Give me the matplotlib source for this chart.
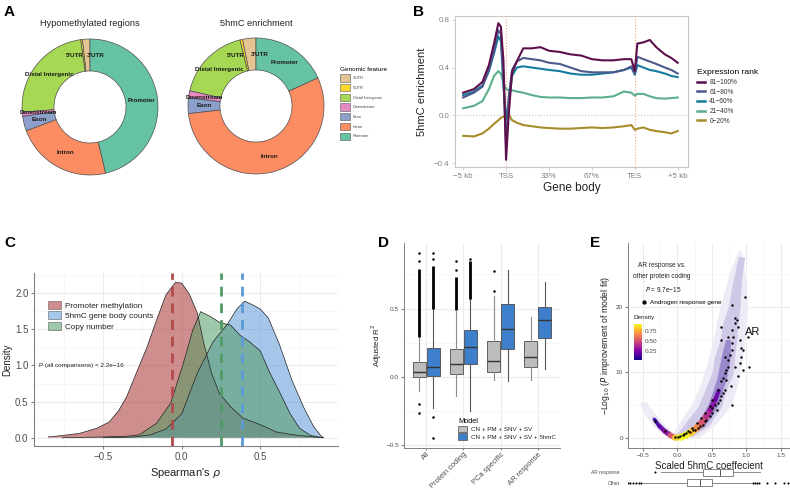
import numpy as np
import matplotlib
matplotlib.use('Agg')
import matplotlib.pyplot as plt
from matplotlib.patches import Patch
from matplotlib.lines import Line2D
from matplotlib.collections import LineCollection
from matplotlib.cm import ScalarMappable
from matplotlib.colors import Normalize

# ---------------- data ----------------
# A: genomic feature composition (%)
features = ["3'UTR", "5'UTR", "Distal Intergenic", "Downstream", "Exon", "Intron", "Promoter"]
feature_colors = ['#E5C494', '#FFD92F', '#A6D854', '#E78AC3', '#8DA0CB', '#FC8D62', '#66C2A5']
label_ha = ['left', 'right', 'center', 'center', 'center', 'center', 'center']
hypo_pct = [1.8, 0.4, 24.0, 1.0, 3.5, 23.0, 46.3]
hmc_pct = [3.2, 0.6, 17.6, 1.7, 3.7, 55.0, 18.2]

# B: metagene profile (0 = -5kb, 1 = TSS, 4 = TES, 5 = +5kb)
gb_pos = [0, 0.25, 0.45, 0.6, 0.72, 0.82, 0.88, 0.94, 1.0, 1.06, 1.14, 1.25, 1.4, 1.6, 1.8, 2.0,
          2.25, 2.5, 2.75, 3.0, 3.25, 3.5, 3.75, 3.92, 4.0, 4.06, 4.2, 4.35, 4.5, 4.7, 4.85, 5.0]
gb_ticks = ['\u22125 kb', 'TSS', '33%', '67%', 'TES', '+5 kb']
enr_81_100 = [0.19, 0.22, 0.28, 0.42, 0.60, 0.77, 0.74, 0.45, -0.37, 0.0, 0.36, 0.45, 0.56, 0.56, 0.57, 0.54,
              0.53, 0.51, 0.50, 0.47, 0.46, 0.46, 0.47, 0.47, 0.37, 0.60, 0.61, 0.63, 0.57, 0.51, 0.48, 0.44]
enr_61_80 = [0.15, 0.19, 0.24, 0.38, 0.55, 0.71, 0.68, 0.30, -0.26, 0.15, 0.38, 0.45, 0.48, 0.47, 0.46, 0.44,
             0.43, 0.40, 0.37, 0.36, 0.36, 0.36, 0.38, 0.41, 0.35, 0.49, 0.47, 0.45, 0.43, 0.40, 0.38, 0.35]
enr_41_60 = [0.17, 0.20, 0.25, 0.37, 0.52, 0.66, 0.62, 0.25, -0.03, 0.10, 0.33, 0.40, 0.41, 0.40, 0.39, 0.38,
             0.37, 0.35, 0.34, 0.34, 0.35, 0.36, 0.38, 0.40, 0.34, 0.42, 0.40, 0.38, 0.37, 0.35, 0.33, 0.32]
enr_21_40 = [0.06, 0.08, 0.12, 0.22, 0.33, 0.37, 0.35, 0.27, 0.22, 0.21, 0.21, 0.20, 0.19, 0.17, 0.155, 0.15,
             0.15, 0.145, 0.145, 0.15, 0.15, 0.16, 0.20, 0.19, 0.165, 0.18, 0.18, 0.16, 0.145, 0.14, 0.145, 0.15]
enr_0_20 = [-0.17, -0.175, -0.15, -0.11, -0.07, -0.04, -0.02, -0.01, 0.0, 0.01, -0.04, -0.06, -0.08, -0.09, -0.10, -0.105,
            -0.11, -0.11, -0.105, -0.10, -0.105, -0.10, -0.09, -0.08, -0.12, -0.11, -0.10, -0.12, -0.13, -0.14, -0.15, -0.13]
rank_labels = ['81\u2212100%', '61\u221280%', '41\u221260%', '21\u221240%', '0\u221220%']
rank_colors = ['#5C0F4A', '#4D5A8E', '#157B9E', '#5BAF8A', '#A88B2A']

# C: density of Spearman's rho
pm_x = [-0.85, -0.76, -0.65, -0.54, -0.46, -0.40, -0.35, -0.29, -0.22, -0.16, -0.10, -0.04, 0.0, 0.05,
        0.10, 0.14, 0.19, 0.24, 0.31, 0.39, 0.50, 0.60, 0.71, 0.84, 0.90]
pm_y = [0.01, 0.03, 0.06, 0.13, 0.22, 0.38, 0.57, 0.89, 1.26, 1.63, 1.98, 2.15, 2.14, 1.98,
        1.72, 1.31, 0.89, 0.61, 0.43, 0.27, 0.18, 0.08, 0.04, 0.01, 0.0]
hmc_x = [-0.5, -0.3, -0.2, -0.1, 0.0, 0.1, 0.2, 0.29, 0.35, 0.40, 0.45, 0.50, 0.55, 0.62, 0.70, 0.78, 0.84, 0.88, 0.90]
hmc_y = [0.0, 0.01, 0.04, 0.12, 0.33, 0.90, 1.33, 1.57, 1.78, 1.89, 1.84, 1.78, 1.66, 1.30, 0.80, 0.40, 0.15, 0.04, 0.0]
cn_x = [-0.76, -0.5, -0.35, -0.27, -0.16, -0.07, 0.01, 0.07, 0.12, 0.18, 0.245, 0.31, 0.37, 0.43, 0.50,
        0.56, 0.625, 0.69, 0.75, 0.82, 0.90]
cn_y = [0.0, 0.01, 0.02, 0.04, 0.20, 0.48, 1.03, 1.49, 1.745, 1.68, 1.59, 1.56, 1.42, 1.33, 1.20,
        0.90, 0.62, 0.33, 0.13, 0.03, 0.0]
rho_medians = [-0.062, 0.385, 0.25]
rho_labels = ['Promoter methylation', '5hmC gene body counts', 'Copy number']
rho_fill = ['#A83232', '#5D97D9', '#529B64']
rho_line = ['#B24A4A', '#5B9AD8', '#4F9A66']

# D: adjusted R^2 boxplots
d_groups = ['All', 'Protein coding', 'PCa specific', 'AR response']
gray_med = [0.034, 0.098, 0.12, 0.149]
gray_q1 = [0.0, 0.022, 0.034, 0.073]
gray_q3 = [0.11, 0.205, 0.26, 0.264]
gray_lo = [-0.105, -0.142, -0.02, -0.02]
gray_hi = [0.286, 0.48, 0.59, 0.44]
gray_fliers = [[-0.196, -0.264, 0.85, 0.905], [0.78, 0.845], [0.63, 0.774], []]
gray_band = [(0.29, 0.79), (0.49, 0.73), None, None]
blue_med = [0.073, 0.22, 0.352, 0.42]
blue_q1 = [0.007, 0.098, 0.205, 0.283]
blue_q3 = [0.21, 0.347, 0.537, 0.51]
blue_lo = [-0.227, -0.252, -0.032, 0.059]
blue_hi = [0.5, 0.567, 0.78, 0.694]
blue_fliers = [[-0.296, -0.447, 0.86, 0.905], [0.86], [], []]
blue_band = [(0.5, 0.81), (0.57, 0.85), None, None]
model_labels = ['CN + PM + SNV + SV', 'CN + PM + SNV + SV + 5hmC']

# E: volcano-like cloud
halo_y = [0, 2, 5, 8, 11, 14, 17, 20, 23, 26, 28.5]
halo_l = [-0.1, 0.0, 0.2, 0.33, 0.42, 0.5, 0.56, 0.62, 0.7, 0.78, 0.88]
halo_r = [0.3, 0.55, 0.78, 0.87, 0.93, 0.97, 1.0, 1.02, 1.0, 0.97, 0.93]
cloud_y = [0.25, 1.8, 4.8, 7.3, 9.9, 12.4, 14.9, 17.5, 20, 22.5, 25, 27.6]
cloud_l = [-0.04, 0.08, 0.30, 0.40, 0.50, 0.54, 0.62, 0.66, 0.74, 0.78, 0.83, 0.88]
cloud_r = [0.21, 0.45, 0.64, 0.71, 0.81, 0.83, 0.86, 0.88, 0.91, 0.92, 0.94, 0.98]
mid_y = [1.5, 3, 5, 7, 9, 11, 13, 15]
mid_l = [0.22, 0.33, 0.44, 0.51, 0.57, 0.61, 0.65, 0.70]
mid_r = [0.36, 0.48, 0.59, 0.65, 0.71, 0.75, 0.77, 0.77]
arm_halo_y = [0, 1, 2, 3, 4, 5.5]
arm_halo_l = [-0.1, -0.26, -0.36, -0.43, -0.5, -0.55]
arm_halo_r = [0.05, -0.08, -0.18, -0.26, -0.35, -0.45]
arm_y = [0, 0.8, 1.6, 2.4, 3.2]
arm_l = [-0.06, -0.2, -0.28, -0.34, -0.38]
arm_r = [0.02, -0.08, -0.18, -0.26, -0.32]
core_x = [-0.33, -0.26, -0.18, -0.1, -0.03, 0.05, 0.12, 0.2, 0.28, 0.35, 0.42, 0.48, 0.55, 0.6]
core_y = [2.8, 1.8, 1.0, 0.4, 0.05, 0.1, 0.4, 0.9, 1.5, 2.3, 3.3, 4.3, 5.8, 7.2]
core_d = [0.1, 0.18, 0.3, 0.55, 0.85, 0.92, 0.9, 0.8, 0.65, 0.5, 0.38, 0.28, 0.2, 0.14]
core_w = [2.5, 3, 3.5, 4, 4.5, 5, 5, 5, 5, 4.5, 4, 3.5, 3]
ar_x = [-0.32, -0.18, -0.04, 0.01, 0.085, 0.13, 0.18, 0.23, 0.25, 0.30, 0.33, 0.375, 0.40, 0.42, 0.47,
        0.50, 0.505, 0.544, 0.59, 0.616, 0.64, 0.665, 0.69, 0.50, 0.57, 0.64, 0.665, 0.69, 0.71, 0.74,
        0.74, 0.76, 0.79, 0.79, 0.81, 0.79, 0.83, 0.86, 0.83, 0.88, 0.91, 0.93, 0.955, 0.91, 0.955,
        0.79, 0.98, 0.79, 0.74, 0.71, 0.78, 0.69, 0.64, 0.63, 0.93, 1.04, 0.83, 0.88, 0.59, 0.47,
        0.40, 0.35, 0.28, 0.21, 0.16, 0.10, 0.04, 1.02]
ar_y = [2.63, 1.01, 0.15, 0.10, 0.5, 0.76, 0.86, 1.17, 1.27, 1.52, 1.77, 2.03, 2.53, 2.79, 3.29,
        3.80, 4.56, 5.07, 5.32, 5.83, 6.33, 6.84, 7.35, 5.83, 4.3, 8.61, 9.12, 9.88, 10.38, 10.89,
        11.9, 12.66, 13.42, 14.44, 15.45, 16.46, 17.48, 17.98, 18.24, 16.97, 14.94, 13.68, 13.42, 11.4, 10.38,
        5.07, 21.53, 20.26, 15.45, 8.87, 7.85, 12.41, 14.94, 16.97, 12.41, 10.89, 10.89, 9.37, 7.35, 4.81,
        3.80, 3.04, 2.28, 1.52, 1.01, 0.66, 0.35, 15.35]
strip_labels = ['AR response', 'Other']
strip_med = [0.62, 0.33]
strip_q1 = [0.37, 0.14]
strip_q3 = [0.80, 0.51]
strip_lo = [-0.24, -0.5]
strip_hi = [1.2, 1.07]
strip_fliers = [[-0.32], [-0.72, -0.68, -0.64, -0.6, -0.56, -0.53, 1.1, 1.13, 1.16, 1.19, 1.3, 1.42, 1.55, 1.6]]

# ---------------- figure ----------------
plt.rcParams['font.family'] = ['Liberation Sans', 'DejaVu Sans']
W, H = 790, 490
fig = plt.figure(figsize=(7.9, 4.9), dpi=100)


def box(x0, y0, x1, y1):
    # pixel rectangle, origin top-left
    return fig.add_axes([x0 / W, 1 - y1 / H, (x1 - x0) / W, (y1 - y0) / H])


def ftext(x, y, s, **kw):
    fig.text(x / W, 1 - y / H, s, **kw)


def anchor(x, y):
    return (x / W, 1 - y / H)


for lab, x, y in [('A', 4, 12), ('B', 413, 12), ('C', 4, 243), ('D', 378, 243), ('E', 590, 243)]:
    ftext(x, y, lab, fontsize=11, fontweight='bold', va='center')

# ---- A ----
for cx, cy, vals, title in [(90, 107, hypo_pct, 'Hypomethylated regions'),
                            (256, 106, hmc_pct, '5hmC enrichment')]:
    ax = box(cx - 70, cy - 70, cx + 70, cy + 70)
    wedges, _ = ax.pie(vals, colors=feature_colors, startangle=90, counterclock=True,
                       wedgeprops=dict(width=0.47, edgecolor='#4d4d4d', linewidth=0.5))
    for w, lab, ha in zip(wedges, features, label_ha):
        ang = np.deg2rad((w.theta1 + w.theta2) / 2)
        ax.text(0.765 * np.cos(ang), 0.765 * np.sin(ang), lab, ha=ha, va='center',
                fontsize=4.5, fontweight='bold', color='#1a1a1a')
    ax.set_xlim(-70 / 68, 70 / 68)
    ax.set_ylim(-70 / 68, 70 / 68)
    ftext(cx, 23, title, ha='center', va='center', fontsize=6.6, color='#222222')

fig.legend(handles=[Patch(facecolor=c, edgecolor='#555555', linewidth=0.4) for c in feature_colors],
           labels=features, title='Genomic feature', loc='upper left', bbox_to_anchor=anchor(338, 65),
           frameon=False, fontsize=2.9, title_fontsize=4.6, handlelength=2.4, handleheight=2.4,
           labelspacing=0.6, handletextpad=0.8, borderpad=0, alignment='left', labelcolor='#444444')

# ---- B ----
axB = box(455, 16, 688, 167)
series_b = [enr_81_100, enr_61_80, enr_41_60, enr_21_40, enr_0_20]
axB.axhline(0, color='#C8C8C8', ls=':', lw=0.8, zorder=1)
for xv in (1, 4):
    axB.axvline(xv, color='#F4A582', ls=':', lw=0.8, zorder=1)
for vals, col in list(zip(series_b, rank_colors))[::-1]:
    axB.plot(gb_pos, vals, color=col, lw=1.5, zorder=3)
axB.set_xlim(-0.19, 5.24)
axB.set_ylim(-0.43, 0.83)
axB.set_xticks(range(6))
axB.set_xticklabels(gb_ticks)
axB.set_yticks([-0.4, 0.0, 0.4, 0.8])
axB.set_yticklabels(['\u22120.4', '0.0', '0.4', '0.8'])
for s in axB.spines.values():
    s.set_color('#C8C8C8')
    s.set_linewidth(0.8)
axB.tick_params(colors='#C8C8C8', labelcolor='#808080', labelsize=5.7, length=2.5, width=0.6, pad=1.5)
axB.set_ylabel('5hmC enrichment', fontsize=8, color='#222222')
axB.set_xlabel('Gene body', fontsize=8.5, color='#222222')
axB.yaxis.set_label_coords(-0.12, 0.5)
axB.xaxis.set_label_coords(0.5, -0.1)
fig.legend(handles=[Line2D([], [], color=c, lw=1.8) for c in rank_colors], labels=rank_labels,
           title='Expression rank', loc='upper left', bbox_to_anchor=anchor(694, 66), frameon=False,
           fontsize=4.8, title_fontsize=6.1, handlelength=1.2, labelspacing=0.4, handletextpad=0.6,
           borderpad=0, alignment='left', labelcolor='#333333')

# ---- C ----
axC = box(34, 273, 338, 446)
for xs, ys, col in zip([pm_x, hmc_x, cn_x], [pm_y, hmc_y, cn_y], rho_fill):
    axC.fill_between(xs, ys, 0, facecolor=col, alpha=0.55, edgecolor='none', zorder=2)
    axC.plot(xs, ys, color='#222222', lw=0.5, zorder=4)
for m, col in zip(rho_medians, rho_line):
    axC.axvline(m, color=col, lw=2.0, ls=(0, (3.5, 2.5)), zorder=5)
axC.set_xlim(-0.94, 0.994)
axC.set_ylim(-0.115, 2.28)
axC.set_xticks([-0.5, 0, 0.5])
axC.set_xticklabels(['\u22120.5', '0.0', '0.5'])
axC.set_xticks([-0.75, -0.25, 0.25, 0.75], minor=True)
axC.set_yticks([0, 0.5, 1.0, 1.5, 2.0])
axC.set_yticks([0.25, 0.75, 1.25, 1.75, 2.25], minor=True)
axC.grid(True, which='major', color='#EBEBEB', lw=0.7, zorder=0)
axC.grid(True, which='minor', color='#F4F4F4', lw=0.5, zorder=0)
axC.set_axisbelow(True)
for s in ['top', 'right']:
    axC.spines[s].set_visible(False)
for s in ['left', 'bottom']:
    axC.spines[s].set_color('#808080')
    axC.spines[s].set_linewidth(0.8)
axC.tick_params(which='major', colors='#808080', labelcolor='#4D4D4D', labelsize=7, length=2.5, pad=1.5)
axC.tick_params(which='minor', length=0)
axC.set_ylabel('Density', fontsize=7, color='#222222', labelpad=2)
axC.set_xlabel("Spearman's $\\rho$", fontsize=8, color='#222222', labelpad=3)
axC.text(-0.906, 1.0, 'P (all comparisons) < 2.2e\u221216', fontsize=4.6, va='center', ha='left', color='#222222')
axC.legend(handles=[Patch(facecolor=c, alpha=0.55, edgecolor='#222222', linewidth=0.5) for c in rho_fill],
           labels=rho_labels, loc='upper left', bbox_to_anchor=anchor(44, 297), bbox_transform=fig.transFigure,
           frameon=False, fontsize=5.9, handlelength=1.6, handleheight=1.1, labelspacing=0.2,
           handletextpad=0.5, borderpad=0, labelcolor='#222222')

# ---- D ----
axD = box(404, 243, 560, 448)
pos = np.arange(1, 5)


def stats(med, q1, q3, lo, hi, fl):
    return [dict(med=a, q1=b, q3=c, whislo=d, whishi=e, fliers=f)
            for a, b, c, d, e, f in zip(med, q1, q3, lo, hi, fl)]


for st, off, fc, wc, band in [
        (stats(gray_med, gray_q1, gray_q3, gray_lo, gray_hi, gray_fliers), -0.19, '#BDBDBD', '#8C8C8C', gray_band),
        (stats(blue_med, blue_q1, blue_q3, blue_lo, blue_hi, blue_fliers), 0.19, '#3E7FCB', '#555555', blue_band)]:
    axD.bxp(st, positions=pos + off, widths=0.35, patch_artist=True, manage_ticks=False,
            boxprops=dict(facecolor=fc, edgecolor='#4D4D4D', linewidth=0.6),
            medianprops=dict(color='#333333', linewidth=1.0),
            whiskerprops=dict(color=wc, linewidth=0.8), capprops=dict(linewidth=0),
            flierprops=dict(marker='o', markersize=1.8, markerfacecolor='k', markeredgecolor='none'))
    for p, b in zip(pos + off, band):
        if b is not None:
            axD.vlines(p, b[0], b[1], color='k', lw=2.0, zorder=3)
axD.set_xlim(0.4, 4.6)
axD.set_ylim(-0.52, 0.98)
axD.set_xticks(pos)
axD.set_xticklabels(d_groups, rotation=45, ha='right', va='top', rotation_mode='anchor')
axD.set_yticks([-0.5, 0, 0.5])
axD.set_yticklabels(['\u22120.5', '0.0', '0.5'])
axD.set_yticks([-0.25, 0.25, 0.75], minor=True)
axD.grid(True, which='major', color='#EBEBEB', lw=0.7)
axD.grid(True, which='minor', axis='y', color='#F4F4F4', lw=0.5)
axD.set_axisbelow(True)
for s in ['top', 'right']:
    axD.spines[s].set_visible(False)
for s in ['left', 'bottom']:
    axD.spines[s].set_color('#808080')
    axD.spines[s].set_linewidth(0.7)
axD.tick_params(which='major', colors='#808080', labelcolor='#4D4D4D', labelsize=4.6, length=2, pad=1.5)
axD.tick_params(axis='x', labelsize=5.4, length=1.5, pad=0.5)
axD.tick_params(which='minor', length=0)
axD.set_ylabel('Adjusted R$^2$', fontsize=5.7, color='#222222', labelpad=2)
axD.legend(handles=[Patch(facecolor='#BDBDBD', edgecolor='#4D4D4D', linewidth=0.5),
                    Patch(facecolor='#3E7FCB', edgecolor='#4D4D4D', linewidth=0.5)],
           labels=model_labels, title='Model', loc='upper left', bbox_to_anchor=anchor(455, 415),
           bbox_transform=fig.transFigure, frameon=False, fontsize=4.5, title_fontsize=5.3,
           handlelength=1.5, handleheight=1.2, labelspacing=0.15, handletextpad=0.6, borderpad=0,
           alignment='left', labelcolor='#222222')

# ---- E ----
axE = box(628, 243, 790, 448)
norm = Normalize(0.02, 0.92)
axE.fill_betweenx(halo_y, halo_l, halo_r, color='#EEEBF6', lw=0, zorder=1)
axE.fill_betweenx(arm_halo_y, arm_halo_l, arm_halo_r, color='#EEEBF6', lw=0, zorder=1)
axE.fill_betweenx(cloud_y, cloud_l, cloud_r, color='#C9C0E4', alpha=0.8, lw=0, zorder=2)
axE.fill_betweenx(mid_y, mid_l, mid_r, color='#8A74C6', alpha=0.75, lw=0, zorder=2)
axE.fill_betweenx(arm_y, arm_l, arm_r, color='#9D8FD0', alpha=0.8, lw=0, zorder=2)
pts = np.column_stack([core_x, core_y]).reshape(-1, 1, 2)
segs = np.concatenate([pts[:-1], pts[1:]], axis=1)
lc = LineCollection(segs, cmap='plasma', norm=norm, linewidths=core_w, capstyle='round', alpha=0.9, zorder=3)
lc.set_array(np.array(core_d[:-1]))
axE.add_collection(lc)
axE.scatter(ar_x, ar_y, s=3, color='k', lw=0, zorder=4)
axE.set_xlim(-0.714, 1.633)
axE.set_ylim(-1.52, 29.7)
axE.set_xticks([-0.5, 0, 0.5, 1.0, 1.5])
axE.set_xticklabels(['\u22120.5', '0.0', '0.5', '1.0', '1.5'])
axE.set_xticks([-0.25, 0.25, 0.75, 1.25], minor=True)
axE.set_yticks([0, 10, 20])
axE.set_yticks([5, 15, 25], minor=True)
axE.grid(True, which='major', color='#EBEBEB', lw=0.7)
axE.grid(True, which='minor', color='#F4F4F4', lw=0.5)
axE.set_axisbelow(True)
for s in ['top', 'right']:
    axE.spines[s].set_visible(False)
for s in ['left', 'bottom']:
    axE.spines[s].set_color('#808080')
    axE.spines[s].set_linewidth(0.7)
axE.tick_params(which='major', colors='#808080', labelcolor='#4D4D4D', labelsize=4.6, length=2, pad=1.5)
axE.tick_params(which='minor', length=0)
axE.set_ylabel('\u2212Log$_{10}$ ($P$ improvement of model fit)', fontsize=6.2, color='#222222', labelpad=3)
axE.set_xlabel('Scaled 5hmC coeffecient', fontsize=7, color='#222222', labelpad=2)
ftext(662, 265, 'AR response vs.', ha='center', va='center', fontsize=4.7, color='#222222')
ftext(662, 277, 'other protein coding', ha='center', va='center', fontsize=4.7, color='#222222')
ftext(663, 290, '$P$ = 9.7e\u221215', ha='center', va='center', fontsize=4.7, color='#222222')
axE.scatter([], [], s=3, color='k', label='Androgen response gene')
axE.legend(loc='center left', bbox_to_anchor=anchor(639, 302), bbox_transform=fig.transFigure,
           frameon=False, fontsize=4.6, handlelength=0.6, handletextpad=0.6, borderpad=0, markerscale=1.2)
ftext(634, 318, 'Density', fontsize=4.6, va='center', color='#222222')
ftext(745, 332, 'AR', fontsize=8, va='center', color='#111111')
cax = box(634, 324, 642, 360)
cb = fig.colorbar(ScalarMappable(norm=norm, cmap='plasma'), cax=cax, ticks=[0.25, 0.5, 0.75])
cb.outline.set_visible(False)
cb.ax.tick_params(labelsize=4.6, length=0, pad=2, labelcolor='#4D4D4D')
cb.ax.set_yticklabels(['0.25', '0.50', '0.75'])

axS = box(628, 466, 790, 489)
axS.patch.set_visible(False)
strip_st = [dict(med=a, q1=b, q3=c, whislo=d, whishi=e, fliers=f)
            for a, b, c, d, e, f in zip(strip_med, strip_q1, strip_q3, strip_lo, strip_hi, strip_fliers)]
axS.bxp(strip_st, positions=[2, 1], vert=False, widths=0.7, patch_artist=True, manage_ticks=False,
        boxprops=dict(facecolor='white', edgecolor='#555555', linewidth=0.5),
        medianprops=dict(color='#555555', linewidth=0.7), whiskerprops=dict(color='#777777', linewidth=0.6),
        capprops=dict(linewidth=0),
        flierprops=dict(marker='o', markersize=1.5, markerfacecolor='k', markeredgecolor='none'))
axS.set_xlim(-0.714, 1.633)
axS.set_ylim(0.4, 2.6)
axS.set_yticks([2, 1])
axS.set_yticklabels(strip_labels)
axS.set_xticks([])
for s in axS.spines.values():
    s.set_visible(False)
axS.tick_params(axis='y', length=0, labelsize=3.5, labelcolor='#4D4D4D', pad=6)

fig.savefig('out.png', dpi=100)
